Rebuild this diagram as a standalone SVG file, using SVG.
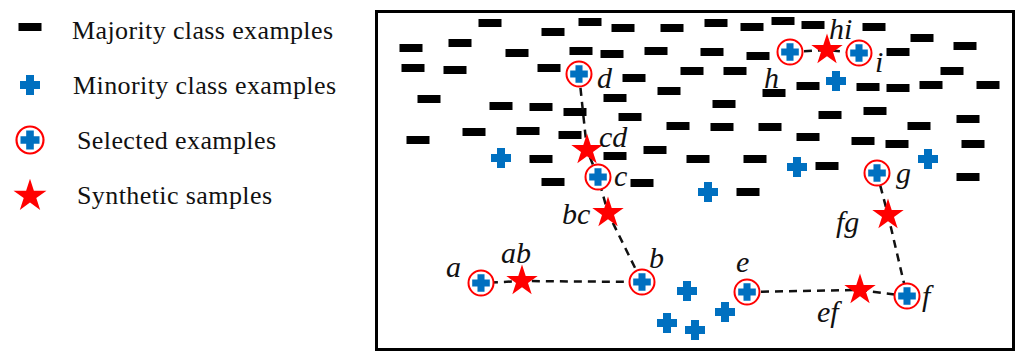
<svg xmlns="http://www.w3.org/2000/svg" xmlns:xlink="http://www.w3.org/1999/xlink" width="1016" height="351" viewBox="0 0 1016 351">
<style>
.leg{font-family:'Liberation Serif','Times New Roman','DejaVu Serif',serif;font-size:26px;fill:#111}
.lbl{font-family:'Liberation Serif','Times New Roman','DejaVu Serif',serif;font-size:30px;font-style:italic;fill:#111}
.conn{fill:none;stroke:#111;stroke-width:2.5;stroke-dasharray:8,6}
</style>
<defs>
<rect id="maj" x="-11.5" y="-4" width="23" height="8" fill="#000"/>
<path id="min" d="M-4,-10H4V-4H10V4H4V10H-4V4H-10V-4H-4Z" fill="#0070C0"/>
<g id="sel"><circle r="12.5" fill="#fff" stroke="#f00" stroke-width="2"/><use xlink:href="#min" href="#min" transform="scale(0.88)"/></g>
<polygon id="star" points="0,-16.5 3.71,-5.1 15.7,-5.1 6,1.95 9.7,13.35 0,6.3 -9.7,13.35 -6,1.95 -15.7,-5.1 -3.71,-5.1" fill="#f00"/>
</defs>
<rect width="1016" height="351" fill="#fff"/>
<g id="legend">
<use href="#maj" x="30" y="27"/>
<text class="leg" x="72" y="39" textLength="261" lengthAdjust="spacing">Majority class examples</text>
<use href="#min" x="30" y="85"/>
<text class="leg" x="73" y="94" textLength="263" lengthAdjust="spacing">Minority class examples</text>
<use href="#sel" transform="translate(30,140) scale(1.08)"/>
<text class="leg" x="77" y="149" textLength="199" lengthAdjust="spacing">Selected examples</text>
<use href="#star" transform="translate(30,196) scale(1.05)"/>
<text class="leg" x="77" y="204" textLength="195" lengthAdjust="spacing">Synthetic samples</text>
</g>
<rect id="frame" x="376.5" y="11.5" width="637" height="338" fill="none" stroke="#000" stroke-width="3"/>
<g id="majority">
<use href="#maj" x="490" y="23"/><use href="#maj" x="553" y="32"/><use href="#maj" x="590" y="22"/><use href="#maj" x="623" y="28"/><use href="#maj" x="672" y="28"/>
<use href="#maj" x="411" y="48"/><use href="#maj" x="460" y="43"/><use href="#maj" x="517" y="53"/><use href="#maj" x="581" y="51"/><use href="#maj" x="612" y="54"/><use href="#maj" x="656" y="51"/>
<use href="#maj" x="413" y="68"/><use href="#maj" x="455" y="70"/><use href="#maj" x="549" y="68"/><use href="#maj" x="634" y="78"/><use href="#maj" x="692" y="71"/>
<use href="#maj" x="429" y="99"/><use href="#maj" x="501" y="106"/><use href="#maj" x="541" y="107"/><use href="#maj" x="575" y="112"/><use href="#maj" x="615" y="98"/><use href="#maj" x="669" y="91"/>
<use href="#maj" x="630" y="117"/><use href="#maj" x="678" y="126"/><use href="#maj" x="474" y="132"/><use href="#maj" x="528" y="131"/><use href="#maj" x="570" y="135"/><use href="#maj" x="418" y="140"/>
<use href="#maj" x="655" y="150"/><use href="#maj" x="615" y="156"/><use href="#maj" x="541" y="159"/><use href="#maj" x="553" y="182"/><use href="#maj" x="642" y="183"/>
<use href="#maj" x="716" y="23"/><use href="#maj" x="752" y="27"/><use href="#maj" x="783" y="21"/><use href="#maj" x="813" y="25"/><use href="#maj" x="874" y="27"/>
<use href="#maj" x="712" y="52"/><use href="#maj" x="758" y="56"/><use href="#maj" x="922" y="38"/><use href="#maj" x="965" y="46"/><use href="#maj" x="898" y="52"/>
<use href="#maj" x="735" y="71"/><use href="#maj" x="774" y="93"/><use href="#maj" x="808" y="86"/><use href="#maj" x="868" y="87"/><use href="#maj" x="898" y="88"/><use href="#maj" x="931" y="85"/><use href="#maj" x="952" y="71"/><use href="#maj" x="988" y="85"/>
<use href="#maj" x="724" y="104"/><use href="#maj" x="830" y="115"/><use href="#maj" x="875" y="111"/><use href="#maj" x="722" y="127"/><use href="#maj" x="770" y="127"/><use href="#maj" x="808" y="137"/><use href="#maj" x="919" y="126"/><use href="#maj" x="968" y="119"/>
<use href="#maj" x="863" y="141"/><use href="#maj" x="897" y="144"/><use href="#maj" x="973" y="144"/><use href="#maj" x="698" y="159"/><use href="#maj" x="755" y="159"/><use href="#maj" x="827" y="166"/><use href="#maj" x="968" y="177"/><use href="#maj" x="748" y="192"/>
</g>
<g id="minority">
<use href="#min" x="501" y="158"/><use href="#min" x="708" y="192"/><use href="#min" x="797" y="167"/><use href="#min" x="928" y="159"/><use href="#min" x="836" y="81"/>
<use href="#min" x="687" y="291"/><use href="#min" x="667" y="323"/><use href="#min" x="695" y="330"/><use href="#min" x="725" y="312"/>
</g>
<g id="connectors">
<polyline class="conn" points="579,74 587,150 598,177 608,213 642,282 522,281 481,283"/>
<polyline class="conn" points="747,292 860,290 907,296 888,215 877,173"/>
<polyline class="conn" points="790,52 827,50 859,53"/>
</g>
<g id="nodes">
<g id="node-a"><use href="#sel" x="481" y="283"/><text class="lbl" x="446" y="277">a</text></g>
<g id="node-b"><use href="#sel" x="642" y="282"/><text class="lbl" x="649" y="268">b</text></g>
<g id="node-c"><use href="#sel" x="598" y="177"/><text class="lbl" x="614" y="186">c</text></g>
<g id="node-d"><use href="#sel" x="579" y="74"/><text class="lbl" x="597" y="88">d</text></g>
<g id="node-e"><use href="#sel" x="747" y="292"/><text class="lbl" x="736" y="272">e</text></g>
<g id="node-f"><use href="#sel" x="907" y="296"/><text class="lbl" x="922" y="306">f</text></g>
<g id="node-g"><use href="#sel" x="877" y="173"/><text class="lbl" x="896" y="183">g</text></g>
<g id="node-h"><use href="#sel" x="790" y="52"/><text class="lbl" x="764" y="88">h</text></g>
<g id="node-i"><use href="#sel" x="859" y="53"/><text class="lbl" x="875" y="72">i</text></g>
<g id="node-ab"><use href="#star" x="522" y="281"/><text class="lbl" x="501" y="263">ab</text></g>
<g id="node-bc"><use href="#star" x="608" y="213"/><text class="lbl" x="562" y="224">bc</text></g>
<g id="node-cd"><use href="#star" x="587" y="150"/><text class="lbl" x="599" y="147">cd</text></g>
<g id="node-ef"><use href="#star" x="860" y="290"/><text class="lbl" x="817" y="322">ef</text></g>
<g id="node-fg"><use href="#star" x="888" y="215"/><text class="lbl" x="836" y="232">fg</text></g>
<g id="node-hi"><use href="#star" x="827" y="50"/><text class="lbl" x="829" y="39">hi</text></g>
</g>
</svg>
